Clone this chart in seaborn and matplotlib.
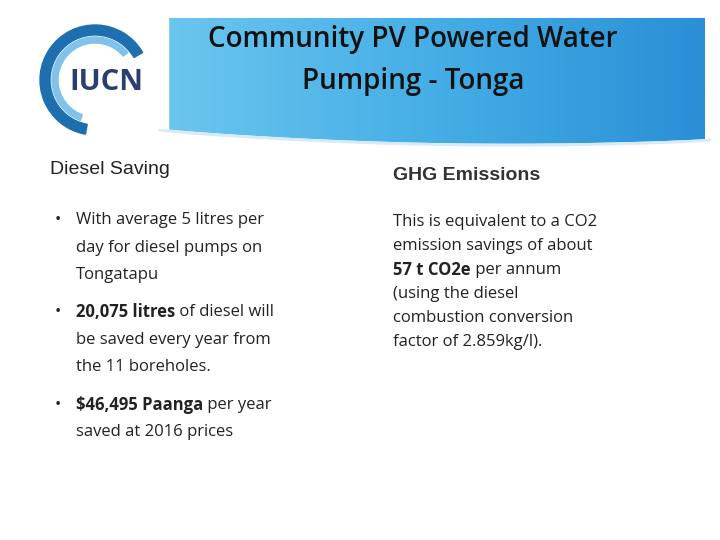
import matplotlib
matplotlib.use("Agg")
import matplotlib.pyplot as plt
import seaborn as sns
import numpy as np
from matplotlib.patches import Wedge, Polygon

sns.set_theme(style="white")
plt.rcParams['font.family'] = ['Open Sans', 'DejaVu Sans']

title_lines = ["Community PV Powered Water", "Pumping - Tonga"]
left_heading = "Diesel Saving"
right_heading = "GHG Emissions"
bullets = [
    [("With average 5 litres per", False), ("day for diesel pumps on", False), ("Tongatapu", False)],
    [("20,075 litres", True, " of diesel will"), ("be saved every year from", False), ("the 11 boreholes.", False)],
    [("$46,495 Paanga", True, " per year"), ("saved at 2016 prices", False)],
]
right_lines = ["This is equivalent to a CO2", "emission savings of about",
               ("57 t CO2e", " per annum"), "(using the diesel",
               "combustion conversion", "factor of 2.859kg/l)."]

fig = plt.figure(figsize=(7.2, 5.4), dpi=100)
ax = fig.add_axes([0, 0, 1, 1])
ax.set_xlim(0, 720); ax.set_ylim(540, 0); ax.axis('off')

# header gradient
grad = np.linspace(0, 1, 256).reshape(1, -1)
cmap = matplotlib.colors.LinearSegmentedColormap.from_list('g', ['#6cc6ee', '#45aee6', '#2a8fd6'])
ax.imshow(grad, extent=(165, 705, 165, 18), cmap=cmap, aspect='auto', zorder=1)
xs = np.linspace(160, 710, 200)
edge = 128 + 12 * np.sin(np.pi * (xs - 160) / 550) ** 0.8 + 10 * ((xs - 160) / 550) ** 2
ax.fill_between(xs, edge, 170, color='white', zorder=2, lw=0)
ax.plot(xs, edge + 2, color='#d6eaf7', lw=2, zorder=3)
ax.fill_between([160, 168], 10, 170, color='white', zorder=2)

# logo
ax.add_patch(Wedge((95, 80), 55, 100, 330, width=10, color='#1e6fb0', zorder=3))
ax.add_patch(Wedge((95, 80), 43, 110, 320, width=6, color='#7fc3ea', zorder=3))
ax.text(106, 82, "IUCN", fontsize=21, fontweight='bold', color='#2a3f6e', ha='center', va='center', zorder=4)

ax.text(413, 40, title_lines[0], fontsize=20, fontweight='semibold', ha='center', va='center', color='#111', zorder=5)
ax.text(413, 81, title_lines[1], fontsize=20, fontweight='semibold', ha='center', va='center', color='#111', zorder=5)

ax.text(50, 169, left_heading, fontsize=14, family='Liberation Sans', ha='left', va='center', color='#222')
ax.text(393, 176, right_heading, fontsize=14, family='Liberation Sans', fontweight='bold', ha='left', va='center', color='#333')

ys = [220, 312, 405]
for y0, b in zip(ys, bullets):
    ax.text(55, y0, "•", fontsize=12, va='center', color='#222')
    for i, ln in enumerate(b):
        y = y0 + i * 27.5
        if ln[1]:
            t = ax.text(76, y, ln[0], fontsize=12, fontweight='bold', va='center', color='#222')
            fig.canvas.draw()
            bb = t.get_window_extent()
            ax.text(76 + bb.width, y, ln[2], fontsize=12, va='center', color='#222')
        else:
            ax.text(76, y, ln[0], fontsize=12, va='center', color='#222')

for i, ln in enumerate(right_lines):
    y = 222 + i * 24
    if isinstance(ln, tuple):
        t = ax.text(393, y, ln[0], fontsize=12, fontweight='bold', va='center', color='#222')
        fig.canvas.draw()
        ax.text(393 + t.get_window_extent().width, y, ln[1], fontsize=12, va='center', color='#222')
    else:
        ax.text(393, y, ln, fontsize=12, va='center', color='#222')

fig.savefig("out.png", dpi=100)
